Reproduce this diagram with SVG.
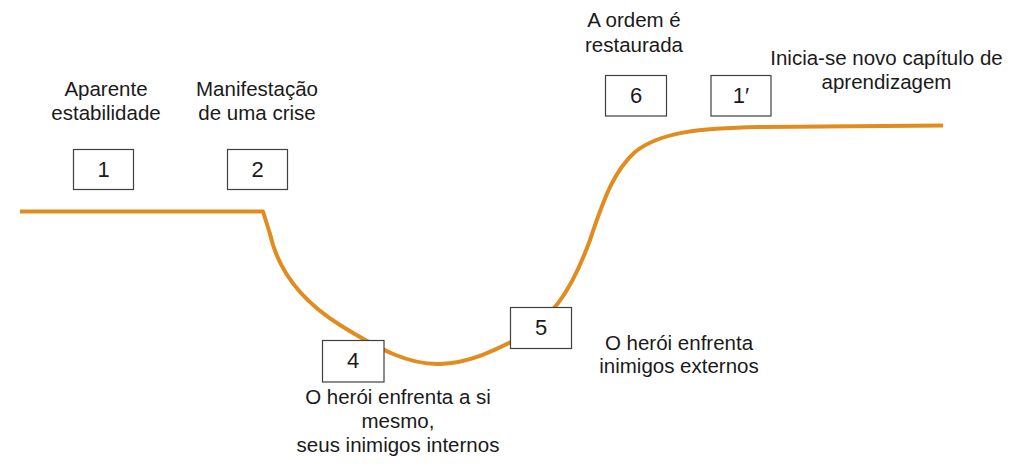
<svg xmlns="http://www.w3.org/2000/svg" width="1024" height="472" viewBox="0 0 1024 472">
<style>
.lbl{font-family:"Liberation Sans",Arial,sans-serif;font-size:20.5px;fill:#1a1a1a;text-anchor:middle}
.num{font-family:"Liberation Sans",Arial,sans-serif;font-size:22px;fill:#1a1a1a;text-anchor:middle}
.box{fill:#ffffff;stroke:#404040;stroke-width:1.2}
.curve{fill:none;stroke:#E08C1F;stroke-width:4;stroke-linejoin:round;stroke-linecap:butt}
</style>
<rect width="1024" height="472" fill="#ffffff"/>
<g id="connectors">
<path class="curve" d="M20 211.5 H263 L270 234 C278 270 300 300 340 325 C380 350 410 365 440 364 C470 363 495 350 515 340 C550 320 570 295 590 240 C605 195 615 170 635 152 C660 132 700 128 760 127 L943 125.5"/>
</g>
<g id="node1">
<text class="lbl" x="106" y="96">Aparente</text>
<text class="lbl" x="106" y="120">estabilidade</text>
<rect class="box" x="73.5" y="149.5" width="60" height="40"/>
<text class="num" x="103.5" y="177">1</text>
</g>
<g id="node2">
<text class="lbl" x="257" y="96">Manifestação</text>
<text class="lbl" x="257" y="120">de uma crise</text>
<rect class="box" x="227.5" y="149.5" width="60" height="40"/>
<text class="num" x="257.5" y="177">2</text>
</g>
<g id="node4">
<rect class="box" x="322.5" y="340.5" width="61.5" height="41.5"/>
<text class="num" x="353" y="368">4</text>
<text class="lbl" x="398" y="404">O herói enfrenta a si</text>
<text class="lbl" x="398" y="428">mesmo,</text>
<text class="lbl" x="398" y="452">seus inimigos internos</text>
</g>
<g id="node5">
<rect class="box" x="510.5" y="307.5" width="61" height="41"/>
<text class="num" x="541" y="335">5</text>
<text class="lbl" x="679" y="350">O herói enfrenta</text>
<text class="lbl" x="679" y="373">inimigos externos</text>
</g>
<g id="node6">
<text class="lbl" x="634" y="27">A ordem é</text>
<text class="lbl" x="634" y="52">restaurada</text>
<rect class="box" x="605.5" y="75.5" width="61" height="40.5"/>
<text class="num" x="636" y="103">6</text>
</g>
<g id="node1prime">
<rect class="box" x="711" y="75.5" width="60" height="40.5"/>
<text class="num" x="741" y="103">1′</text>
<text class="lbl" x="886.5" y="65">Inicia-se novo capítulo de</text>
<text class="lbl" x="886.5" y="89">aprendizagem</text>
</g>
</svg>
